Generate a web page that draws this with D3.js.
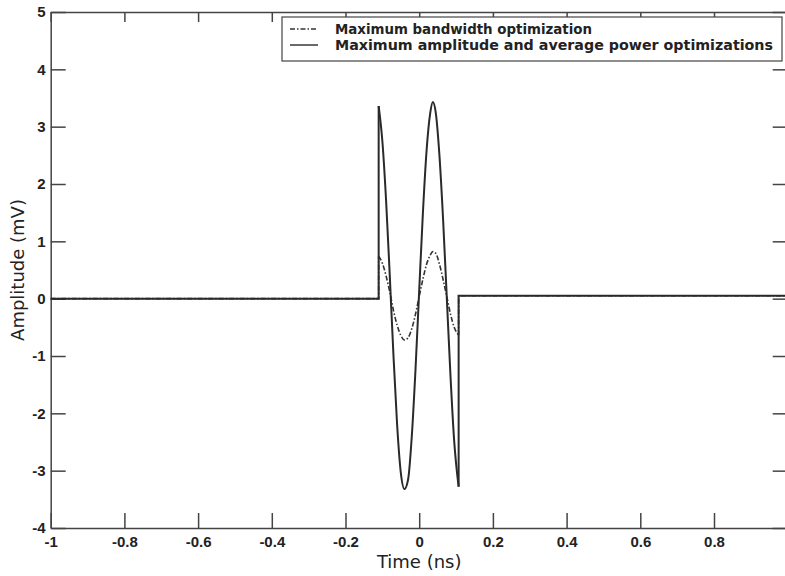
<!DOCTYPE html>
<html lang="en">
<head>
    <meta charset="UTF-8">
    <title>Pulse amplitude</title>
    <script src="https://d3js.org/d3.v7.min.js"></script>
    <style>
      body { margin: 0; background: #fff; }
      .tick text { font-family: "Liberation Sans", Arial, sans-serif; font-weight: bold; font-size: 15px; fill: #222; }
      .tick line, .domain { stroke: #444; stroke-width: 1.5; }
    </style>
</head>
<body>
    <svg id="chart"></svg>

    <script>
      // x ticks (ns) and y ticks (mV)
      var xTicks = [-1, -0.8, -0.6, -0.4, -0.2, 0, 0.2, 0.4, 0.6, 0.8, 1];
      var yTicks = [-4, -3, -2, -1, 0, 1, 2, 3, 4, 5];

      // time samples across the pulse (ns)
      var pulseTime = [-0.110, -0.100, -0.090, -0.080, -0.070, -0.060, -0.050, -0.040, -0.030, -0.020, -0.010,
                       0.000, 0.010, 0.020, 0.030, 0.037, 0.045, 0.055, 0.065, 0.075, 0.085, 0.095, 0.107];
      // maximum amplitude and average power optimizations (solid)
      var ampPower = [3.36, 2.75, 1.73, 0.42, -0.97, -2.19, -3.03, -3.32, -3.15, -2.39, -1.23,
                      0.14, 1.49, 2.58, 3.24, 3.43, 3.24, 2.49, 1.36, 0.00, -1.36, -2.49, -3.28];
      // maximum bandwidth optimization (dash-dot)
      var bandwidth = [0.74, 0.62, 0.40, 0.12, -0.20, -0.46, -0.64, -0.72, -0.68, -0.52, -0.27,
                       0.04, 0.34, 0.60, 0.76, 0.82, 0.79, 0.60, 0.33, 0.03, -0.27, -0.50, -0.64];
      // level before and after the pulse
      var levelBefore = 0;
      var levelAfter = 0.05;

      var legendLabels = ["Maximum bandwidth optimization", "Maximum amplitude and average power optimizations"];

      var width = 785, height = 576;
      var svg = d3.select("#chart").attr("width", width).attr("height", height);

      var x = d3.scaleLinear().domain([-1, 1]).range([50.7, 787.7]);
      var y = d3.scaleLinear().domain([-4, 5]).range([528, 12]);

      var fmt = function (d) { return String(+d.toFixed(1)); };
      // the x "1" label falls outside the picture, so it is left blank
      var xFmt = function (d) { return d === 1 ? "" : fmt(d); };

      // axes, ticks pointing inwards
      svg.append("g")
          .attr("transform", "translate(0," + y(-4) + ")")
          .call(d3.axisBottom(x).tickValues(xTicks).tickSize(-15).tickSizeOuter(0).tickPadding(8).tickFormat(xFmt));
      svg.append("g")
          .attr("transform", "translate(0," + y(5) + ")")
          .call(d3.axisTop(x).tickValues(xTicks).tickSize(-10).tickSizeOuter(0).tickFormat(""));
      svg.append("g")
          .attr("transform", "translate(" + x(-1) + ",0)")
          .call(d3.axisLeft(y).tickValues(yTicks).tickSize(-15).tickSizeOuter(0).tickPadding(5).tickFormat(fmt));
      svg.append("g")
          .attr("transform", "translate(" + x(1) + ",0)")
          .call(d3.axisRight(y).tickValues(yTicks).tickSize(-15).tickSizeOuter(0).tickFormat(""));

      // axis titles
      svg.append("text")
          .attr("x", x(0)).attr("y", 568)
          .attr("text-anchor", "middle")
          .style("font-family", "DejaVu Sans, sans-serif").style("font-size", "18px").style("fill", "#222")
          .text("Time (ns)");
      svg.append("text")
          .attr("transform", "translate(24,270) rotate(-90)")
          .attr("text-anchor", "middle")
          .style("font-family", "DejaVu Sans, sans-serif").style("font-size", "18px").style("fill", "#222")
          .text("Amplitude (mV)");

      var straight = d3.line().x(function (d) { return x(d[0]); }).y(function (d) { return y(d[1]); });
      var smooth = d3.line().curve(d3.curveMonotoneX).x(function (d) { return x(d[0]); }).y(function (d) { return y(d[1]); });

      function drawSeries(values, style) {
          var pts = pulseTime.map(function (t, i) { return [t, values[i]]; });
          var first = pts[0], last = pts[pts.length - 1];
          var parts = [
              straight([[-1, levelBefore], [first[0], levelBefore], first]),
              smooth(pts),
              straight([last, [last[0], levelAfter], [1, levelAfter]])
          ];
          parts.forEach(function (d) {
              svg.append("path")
                  .attr("d", d)
                  .attr("fill", "none")
                  .attr("stroke", style.color)
                  .attr("stroke-width", style.width)
                  .attr("stroke-dasharray", style.dash);
          });
      }

      var dashStyle = { color: "#333", width: 1.6, dash: "5,2,1.5,2" };
      var solidStyle = { color: "#2a2a2a", width: 2, dash: null };
      drawSeries(bandwidth, dashStyle);
      drawSeries(ampPower, solidStyle);

      // legend
      var legend = svg.append("g");
      legend.append("rect")
          .attr("x", 282).attr("y", 17).attr("width", 500).attr("height", 44)
          .attr("fill", "#fff").attr("stroke", "#444").attr("stroke-width", 1.2);
      var legendStyles = [dashStyle, solidStyle];
      var legendWidths = [257, 438];
      legendLabels.forEach(function (label, i) {
          var ly = 29 + i * 16;
          legend.append("line")
              .attr("x1", 290).attr("x2", 318).attr("y1", ly).attr("y2", ly)
              .attr("stroke", legendStyles[i].color)
              .attr("stroke-width", 1.4)
              .attr("stroke-dasharray", legendStyles[i].dash);
          legend.append("text")
              .attr("x", 335).attr("y", ly + 5)
              .attr("textLength", legendWidths[i]).attr("lengthAdjust", "spacingAndGlyphs")
              .style("font-family", "DejaVu Sans, sans-serif").style("font-weight", "bold")
              .style("font-size", "14px").style("fill", "#222")
              .text(label);
      });
    </script>
</body>
</html>
